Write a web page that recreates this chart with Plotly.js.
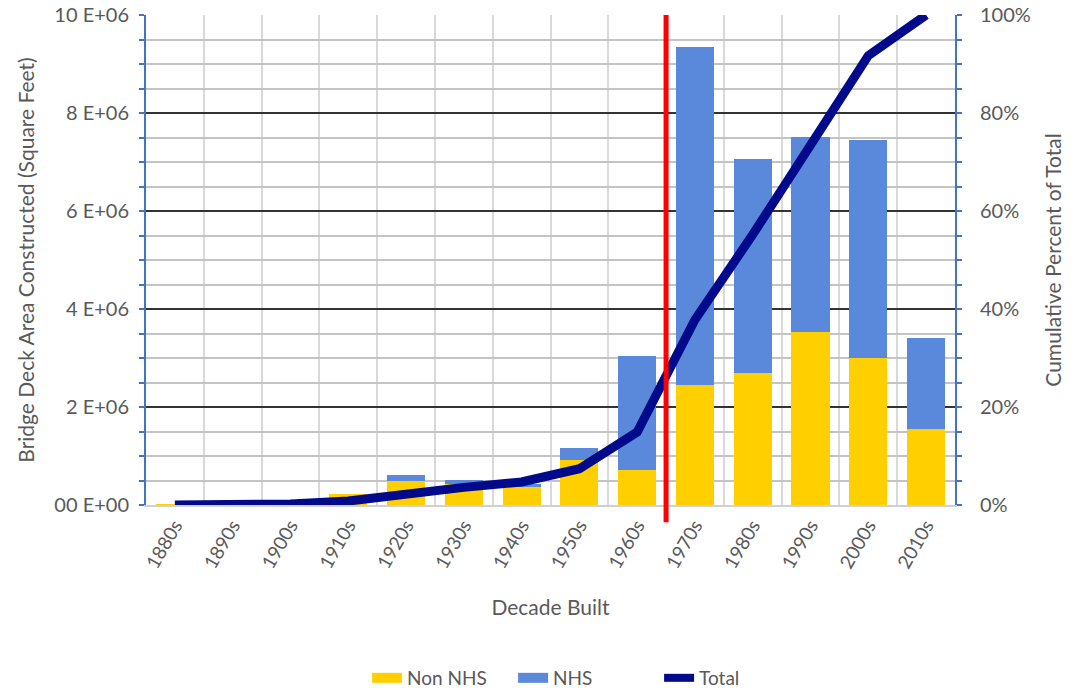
<!DOCTYPE html>
<html>
<head>
<meta charset="utf-8">
<script src="https://cdn.plot.ly/plotly-3.0.1.min.js"></script>
<style>html,body{margin:0;padding:0;background:#fff;}#chart{width:1079px;height:688px;}</style>
</head>
<body>
<div id="chart"></div>
<script>
const decades = ['1880s','1890s','1900s','1910s','1920s','1930s','1940s','1950s','1960s','1970s','1980s','1990s','2000s','2010s'];
const nonNHS = [0.02e6, 0, 0.01e6, 0.22e6, 0.50e6, 0.42e6, 0.37e6, 0.92e6, 0.71e6, 2.45e6, 2.69e6, 3.54e6, 3.00e6, 1.55e6];
const nhs    = [0, 0, 0, 0, 0.11e6, 0.10e6, 0.06e6, 0.24e6, 2.34e6, 6.90e6, 4.37e6, 3.97e6, 4.45e6, 1.86e6];
const cumulativePct = [0, 0.1, 0.2, 0.8, 2.3, 3.6, 4.7, 7.4, 14.9, 37.8, 55.2, 73.6, 91.7, 100];
const leftMajorVals = [0, 2e6, 4e6, 6e6, 8e6, 10e6];
const leftMajorText = ['00 E+00', '2 E+06', '4 E+06', '6 E+06', '8 E+06', '10 E+06'];
const leftStep = 0.5e6;
const rightTickVals = [0, 20, 40, 60, 80, 100];
const rightTickText = ['0%', '20%', '40%', '60%', '80%', '100%'];
const dividerBetween = ['1960s', '1970s'];

// left axis: a tick (and light grid line) every 0.5 E+06, labelled only at majors
const leftTickVals = [], leftTickText = [];
for (let v = 0; v <= 10e6 + 1; v += leftStep) {
  leftTickVals.push(v);
  const i = leftMajorVals.indexOf(v);
  leftTickText.push(i >= 0 ? leftMajorText[i] : '');
}

const font = 'Lato, "Open Sans", sans-serif';
const grey = '#595959';
const axisBlue = '#4472C4';
const yellow = '#FFCF00', blue = '#5A88DB', navy = '#000A8A';

const traces = [
  {type:'bar', name:'Non NHS', x:decades, y:nonNHS, marker:{color:yellow}, yaxis:'y', showlegend:false},
  {type:'bar', name:'NHS', x:decades, y:nhs, marker:{color:blue}, yaxis:'y', showlegend:false},
  {type:'scatter', mode:'lines', name:'Total', x:decades, y:cumulativePct, yaxis:'y2',
   line:{color:navy, width:9}, cliponaxis:false, showlegend:false},
  // legend entries
  {type:'scatter', mode:'lines', name:'Non NHS', x:[null], y:[null], yaxis:'y', line:{color:yellow, width:14}},
  {type:'scatter', mode:'lines', name:'NHS', x:[null], y:[null], yaxis:'y', line:{color:blue, width:14}},
  {type:'scatter', mode:'lines', name:'Total', x:[null], y:[null], yaxis:'y2', line:{color:navy, width:8}}
];

const divX = (decades.indexOf(dividerBetween[0]) + decades.indexOf(dividerBetween[1])) / 2;

const layout = {
  width:1079, height:688,
  margin:{l:146, r:124, t:15, b:183, autoexpand:false},
  paper_bgcolor:'#fff', plot_bgcolor:'#fff',
  barmode:'stack', bargap:0.34,
  font:{family:font, color:grey, size:19},
  showlegend:true,
  legend:{orientation:'h', x:0.544, xanchor:'center', y:-0.353, yanchor:'middle',
          font:{size:19, color:grey}, traceorder:'normal', itemwidth:30,
          entrywidth:101, entrywidthmode:'pixels'},
  xaxis:{
    type:'category', tickson:'boundaries', showgrid:true, gridcolor:'#D9D9D9', gridwidth:2,
    showline:true, linecolor:'#D0D0D0', linewidth:2, ticks:'', tickangle:-60,
    tickfont:{size:19, color:grey}, automargin:false,
    title:{text:'Decade Built', font:{size:21, color:grey}, standoff:29},
    zeroline:false
  },
  yaxis:{
    range:[0, 10e6], tickmode:'array', tickvals:leftTickVals, ticktext:leftTickText,
    showgrid:true, gridcolor:'#C4C4C4', gridwidth:2, automargin:false,
    showline:true, linecolor:axisBlue, linewidth:2,
    ticks:'outside', ticklen:5, tickcolor:axisBlue, tickwidth:2, ticklabelstandoff:6,
    tickfont:{size:20, color:grey},
    title:{text:'Bridge Deck Area Constructed (Square Feet)', font:{size:21, color:grey}, standoff:14},
    zeroline:false
  },
  yaxis2:{
    overlaying:'y', side:'right', range:[0, 100], tickmode:'array', tickvals:rightTickVals, ticktext:rightTickText,
    showgrid:true, gridcolor:'#333333', gridwidth:1.5,
    showline:true, linecolor:axisBlue, linewidth:2, automargin:false,
    ticks:'outside', ticklen:5, tickcolor:axisBlue, tickwidth:2, ticklabelstandoff:14,
    minor:{tickmode:'linear', dtick:5, tick0:0, showgrid:false, ticks:'outside', ticklen:5, tickcolor:axisBlue, tickwidth:2},
    tickfont:{size:20, color:grey},
    title:{text:'Cumulative Percent of Total', font:{size:21, color:grey}, standoff:16},
    zeroline:false
  },
  shapes:[{
    type:'line', xref:'x', yref:'paper', x0:divX, x1:divX, y0:-0.035, y1:1,
    line:{color:'#FF0000', width:5}, layer:'above'
  }]
};

Plotly.newPlot('chart', traces, layout, {displayModeBar:false, staticPlot:true});
</script>
</body>
</html>
